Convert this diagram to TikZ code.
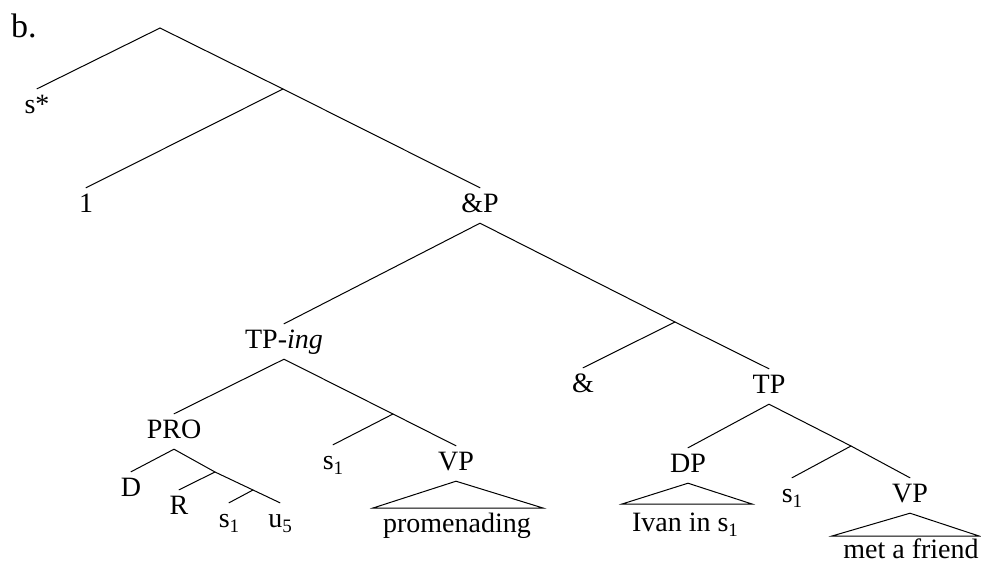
\documentclass[tikz,border=0pt]{standalone}
\usepackage{fontspec}
\setmainfont{Liberation Serif}
\newcommand{\lowidx}[1]{\raisebox{-5pt}{\fontsize{19}{20}\selectfont #1}}
\begin{document}
\begin{tikzpicture}[x=1pt,y=-1pt,
  lab/.style={anchor=base,inner sep=0pt,text height=24pt,text depth=11pt,
    font=\fontsize{28}{34}\selectfont},
  branch/.style={line width=1pt,line cap=round},
  roof/.style={line width=1pt,line join=miter}]
\useasboundingbox (0,0) rectangle (981,565);

\node[lab,anchor=base west,font=\fontsize{34}{40}\selectfont] (ex) at (11,37) {b.};

% top levels
\coordinate (root) at (160,28);
\coordinate (r1) at (283,89);
\node[lab] (sstar) at (37,113) {s*};
\node[lab] (one) at (86,212) {1};
\node[lab] (andP) at (480,212) {\&P};
\draw[branch] (root) -- (sstar.north);
\draw[branch] (root) -- (r1) -- (andP.north);
\draw[branch] (r1) -- (one.north);

% &P
\coordinate (a1) at (675,322);
\node[lab] (tping) at (284,348) {TP-\textit{ing}};
\node[lab] (amp) at (583,392) {\&};
\node[lab] (tp) at (769,393) {TP};
\draw[branch] (andP.south) -- (tping.north);
\draw[branch] (andP.south) -- (a1) -- (tp.north);
\draw[branch] (a1) -- (amp.north);

% TP-ing
\coordinate (t1) at (393,414);
\node[lab] (pro) at (174,438) {PRO};
\node[lab] (sB) at (333,469) {s\lowidx{1}};
\node[lab] (vpA) at (456,470) {VP};
\draw[branch] (tping.south) -- (pro.north);
\draw[branch] (tping.south) -- (t1) -- (vpA.north);
\draw[branch] (t1) -- (sB.north);

% PRO
\coordinate (p1) at (215,472);
\coordinate (p2) at (253,490);
\node[lab] (dd) at (131,496) {D};
\node[lab] (rr) at (179,514) {R};
\node[lab] (sA) at (229,527) {s\lowidx{1}};
\node[lab] (uu) at (280,527) {u\lowidx{5}};
\draw[branch] (pro.south) -- (dd.north);
\draw[branch] (pro.south) -- (p1) -- (p2) -- (uu.north);
\draw[branch] (p1) -- (rr.north);
\draw[branch] (p2) -- (sA.north);

% VP roof (promenading)
\coordinate (vpAl) at (373,508);
\coordinate (vpAr) at (543,508);
\node[lab] (prom) at (457,532) {promenading};
\draw[roof] (vpA.south) -- (vpAl) -- (vpAr) -- cycle;

% TP
\coordinate (q1) at (851,446);
\node[lab] (dp) at (688,472) {DP};
\node[lab] (sC) at (792,502) {s\lowidx{1}};
\node[lab] (vpB) at (910,502) {VP};
\draw[branch] (tp.south) -- (dp.north);
\draw[branch] (tp.south) -- (q1) -- (vpB.north);
\draw[branch] (q1) -- (sC.north);

% DP roof
\coordinate (dpl) at (622,504);
\coordinate (dpr) at (752,504);
\node[lab] (ivan) at (685,531) {Ivan in s\lowidx{1}};
\draw[roof] (dp.south) -- (dpl) -- (dpr) -- cycle;

% VP roof (met a friend)
\coordinate (vpBl) at (832,536);
\coordinate (vpBr) at (979,536);
\node[lab,text depth=0pt] (met) at (911,558) {met a friend};
\draw[roof] (vpB.south) -- (vpBl) -- (vpBr) -- cycle;
\end{tikzpicture}
\end{document}
